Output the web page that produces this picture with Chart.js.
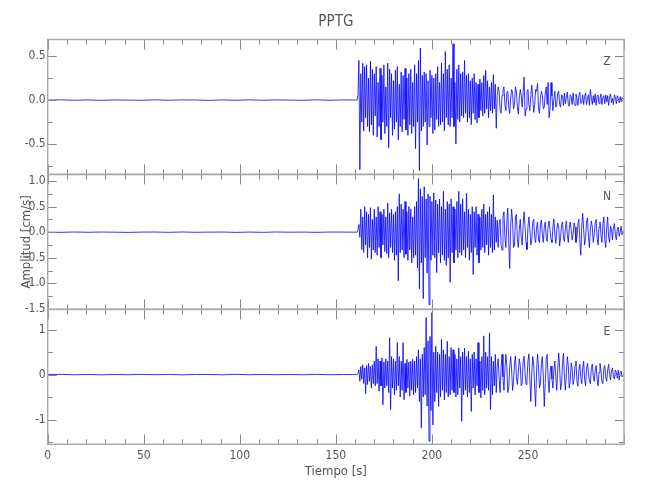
<!DOCTYPE html>
<html>
<head>
<meta charset="utf-8">
<script src="https://cdn.jsdelivr.net/npm/chart.js@4.4.1/dist/chart.umd.min.js"></script>
<style>
  html, body { margin: 0; padding: 0; background: #fff; }
</style>
</head>
<body>
<canvas id="seis" width="650" height="500"></canvas>
<script>
'use strict';

// station + components
var station = 'PPTG';
var components = ['Z', 'N', 'E'];

// quiet part before the arrival: one value every 7 s from 0 s
var quietStart = 0, quietStep = 7;
var quietZ = [0.000, 0.003, -0.002, 0.002, -0.003, 0.002, 0.000, -0.002, 0.003, -0.002, 0.002, 0.001,
  -0.003, 0.002, -0.002, 0.003, -0.002, 0.002, 0.000, -0.002, 0.003, -0.002, 0.002];
var quietN = [0.000, -0.003, 0.004, -0.002, 0.003, 0.000, -0.004, 0.002, 0.003, -0.003, 0.004, -0.002,
  0.001, 0.003, -0.004, 0.002, -0.003, 0.004, 0.000, 0.002, -0.003, 0.003, 0.002];
var quietE = [0.000, 0.005, -0.004, 0.003, -0.005, 0.004, -0.003, 0.005, -0.002, 0.004, -0.005, 0.003,
  0.002, -0.004, 0.005, -0.003, 0.004, -0.002, 0.003, -0.004, 0.005, -0.003, 0.002];

// shaking part: one value every 0.5 s from 161 s to 300 s
var waveStart = 161, waveStep = 0.5;
var waveZ = [
  0.00, 0.05, 0.45, -0.79, 0.30, -0.25, 0.42, -0.35, 0.38, -0.20,
  0.40, -0.30, 0.25, -0.36, 0.44, -0.28, 0.35, -0.40, 0.30, -0.18,
  0.38, -0.42, 0.20, -0.30, 0.36, -0.45, 0.28, -0.25, 0.40, -0.38,
  0.15, -0.30, 0.42, -0.54, 0.35, -0.20, 0.30, -0.40, 0.22, -0.33,
  0.34, -0.25, 0.38, -0.45, 0.18, -0.30, 0.32, -0.36, 0.28, -0.22,
  0.36, -0.34, 0.25, -0.40, 0.30, -0.28, 0.35, -0.38, 0.20, -0.30,
  0.40, -0.55, 0.30, -0.25, 0.45, -0.80, 0.59, -0.35, 0.28, -0.30,
  0.32, -0.25, 0.30, -0.51, 0.22, -0.30, 0.34, -0.20, 0.28, -0.38,
  0.25, -0.34, 0.30, -0.22, 0.38, -0.30, 0.20, -0.28, 0.42, -0.25,
  0.30, -0.35, 0.55, -0.20, 0.35, -0.28, 0.40, -0.30, 0.25, -0.20,
  0.64, -0.30, 0.20, -0.50, 0.35, -0.22, 0.40, -0.25, 0.30, -0.18,
  0.32, -0.20, 0.45, -0.15, 0.28, -0.25, 0.30, -0.20, 0.22, -0.28,
  0.25, -0.15, 0.30, -0.22, 0.20, -0.26, 0.18, -0.20, 0.24, -0.12,
  0.20, -0.18, 0.28, -0.15, 0.34, -0.10, 0.22, -0.20, 0.15, -0.12,
  0.20, -0.15, 0.29, -0.10, 0.18, -0.32, 0.05, 0.15, 0.10, -0.12,
  -0.15, 0.05, 0.12, 0.15, -0.05, -0.12, 0.08, 0.10, -0.08, -0.15,
  0.02, 0.12, 0.08, -0.10, -0.05, 0.15, 0.10, -0.08, -0.16, 0.02,
  0.12, 0.05, -0.08, 0.08, 0.26, -0.18, -0.10, 0.10, 0.12, -0.05,
  -0.12, 0.05, 0.17, 0.02, -0.14, -0.05, 0.12, 0.10, 0.19, -0.10,
  -0.15, 0.02, 0.10, 0.05, -0.10, -0.08, 0.08, 0.15, -0.05, 0.20,
  -0.20, -0.10, 0.20, 0.05, -0.12, 0.02, 0.10, -0.08, -0.05, 0.08,
  0.10, -0.05, -0.08, 0.06, 0.05, -0.06, 0.08, -0.04, 0.03, 0.09,
  -0.05, -0.07, 0.06, 0.04, -0.05, 0.08, -0.03, -0.06, 0.07, 0.02,
  -0.06, 0.05, 0.09, -0.04, -0.03, 0.06, -0.05, 0.04, 0.08, -0.05,
  0.02, 0.06, -0.06, 0.12, 0.03, -0.05, 0.05, -0.03, 0.07, -0.06,
  0.04, 0.06, -0.04, 0.02, 0.07, -0.05, 0.03, 0.05, -0.04, 0.06,
  -0.02, 0.05, -0.06, 0.04, 0.07, -0.03, 0.02, -0.05, 0.06, 0.03,
  -0.04, 0.05, 0.02, -0.03, 0.04, -0.02, 0.03, 0.01, 0.02
];
var waveN = [
  0.00, 0.05, 0.15, -0.10, 0.45, -0.34, 0.30, -0.40, 0.50, -0.25,
  0.40, -0.50, 0.35, -0.30, 0.48, -0.53, 0.25, -0.35, 0.45, -0.40,
  0.30, -0.45, 0.50, -0.30, 0.40, -0.50, 0.35, -0.25, 0.45, -0.38,
  0.30, -0.42, 0.57, -0.50, 0.38, -0.30, 0.45, -0.40, 0.35, -0.55,
  0.40, -0.45, 0.50, -0.95, 0.75, -0.40, 0.55, -0.35, 0.45, -0.50,
  0.60, -0.43, 0.40, -0.55, 0.50, -0.35, 0.45, -0.60, 0.30, -0.50,
  0.50, -0.45, 0.60, -0.70, 1.05, -1.11, 0.85, -0.60, 0.70, -1.30,
  0.89, -0.50, 0.65, -0.80, 0.75, -1.42, 0.70, -0.55, 0.60, -0.45,
  0.77, -0.50, 0.63, -0.79, 0.55, -0.40, 0.65, -0.60, 0.50, -0.45,
  0.80, -0.55, 0.45, -0.65, 0.60, -0.50, 0.55, -0.98, 0.65, -0.40,
  0.50, -0.60, 0.45, -0.35, 0.60, -0.50, 0.80, -0.40, 0.55, -0.45,
  0.65, -0.35, 0.40, -0.50, 0.76, -0.30, 0.45, -0.55, 0.35, -0.40,
  0.50, -0.83, 0.40, -0.30, 0.50, -0.45, 0.35, -0.60, 0.30, -0.35,
  0.45, -0.30, 0.55, -0.40, 0.35, -0.25, 0.40, -0.45, 0.50, -0.30,
  0.35, -0.40, 0.73, -0.35, 0.30, -0.20, 0.24, -0.30, 0.15, 0.25,
  -0.25, -0.35, 0.30, 0.40, -0.10, -0.30, 0.20, 0.47, -0.20, -0.71,
  0.10, 0.45, 0.20, -0.30, -0.25, 0.30, 0.35, -0.15, -0.30, 0.05,
  0.25, -0.10, -0.25, 0.15, 0.40, 0.10, -0.20, -0.34, 0.10, 0.30,
  0.05, -0.25, -0.15, 0.20, 0.25, -0.10, -0.20, 0.10, 0.20, -0.15,
  -0.20, 0.15, 0.24, -0.05, -0.20, 0.10, 0.20, -0.10, -0.18, 0.12,
  0.22, 0.05, -0.15, -0.20, 0.10, 0.26, -0.05, -0.22, 0.05, 0.18,
  0.10, -0.27, -0.10, 0.15, 0.20, -0.12, -0.18, 0.10, 0.22, -0.05,
  -0.20, 0.08, 0.20, 0.05, -0.15, -0.05, 0.18, 0.10, -0.20, -0.10,
  0.15, 0.25, -0.15, -0.45, 0.10, 0.37, 0.05, -0.25, -0.10, 0.20,
  0.28, -0.10, -0.30, 0.05, 0.22, 0.10, -0.20, -0.05, 0.18, 0.25,
  -0.10, -0.25, 0.10, 0.20, -0.05, -0.20, 0.15, 0.30, -0.15, -0.30,
  0.10, 0.30, -0.10, -0.20, 0.12, 0.05, -0.15, 0.10, 0.17, -0.05,
  -0.15, 0.05, 0.10, -0.08, 0.00, 0.12, -0.05, 0.02, 0.03
];
var waveE = [
  0.00, 0.02, 0.10, -0.15, 0.18, -0.10, 0.22, -0.20, 0.15, -0.43,
  0.20, -0.22, 0.25, -0.15, 0.18, -0.30, 0.22, -0.20, 0.30, -0.25,
  0.63, -0.20, 0.35, -0.37, 0.30, -0.25, 0.37, -0.67, 0.28, -0.30,
  0.35, -0.25, 0.30, -0.40, 0.82, -0.78, 0.40, -0.30, 0.35, -0.45,
  0.30, -0.35, 0.71, -0.25, 0.40, -0.50, 0.30, -0.35, 0.71, -0.56,
  0.25, -0.40, 0.34, -0.30, 0.28, -0.48, 0.30, -0.35, 0.34, -0.45,
  0.30, -0.40, 0.40, -0.30, 0.55, -0.60, 0.35, -1.19, 0.45, -0.50,
  0.60, -0.45, 1.27, -0.70, 0.75, -1.48, 0.85, -0.80, 1.38, -1.12,
  0.50, -0.60, 0.63, -0.40, 0.50, -0.71, 0.45, -0.50, 0.78, -0.35,
  0.55, -0.56, 0.45, -0.40, 0.74, -0.50, 0.40, -0.45, 0.60, -0.35,
  0.55, -0.40, 0.45, -0.50, 0.35, -0.45, 0.59, -0.30, 0.40, -1.04,
  0.50, -0.45, 0.59, -0.35, 0.40, -0.50, 0.52, -0.40, 0.35, -0.82,
  0.45, -0.30, 0.50, -0.45, 0.35, -0.25, 0.71, -0.40, 0.30, -0.52,
  0.40, -0.35, 0.86, -0.45, 0.50, -0.30, 0.40, -0.35, 0.93, -0.78,
  0.40, -0.45, 0.30, -0.25, 0.45, -0.40, 0.20, 0.35, -0.10, -0.40,
  0.15, 0.45, -0.05, -0.35, 0.10, 0.45, 0.20, -0.40, -0.30, 0.15,
  0.40, 0.10, -0.35, -0.15, 0.25, 0.41, -0.05, -0.22, 0.05, 0.35,
  0.20, -0.25, -0.20, 0.30, 0.41, 0.05, -0.22, -0.10, 0.30, 0.46,
  -0.10, -0.60, 0.05, 0.40, 0.20, -0.30, -0.71, 0.10, 0.45, 0.15,
  -0.30, -0.20, 0.25, 0.40, -0.05, -0.71, -0.20, 0.35, 0.45, -0.10,
  -0.40, 0.05, 0.19, -0.10, -0.30, 0.10, 0.30, -0.05, -0.35, 0.10,
  0.48, 0.15, -0.34, -0.20, 0.25, 0.48, -0.05, -0.35, 0.05, 0.40,
  0.20, -0.30, -0.15, 0.26, 0.15, -0.22, -0.10, 0.20, 0.30, -0.15,
  -0.26, 0.10, 0.23, -0.05, -0.20, 0.15, 0.30, -0.10, -0.25, 0.10,
  0.25, 0.05, -0.15, -0.20, 0.15, 0.23, -0.05, -0.15, 0.10, 0.20,
  -0.10, -0.25, 0.05, 0.25, 0.10, -0.15, -0.20, 0.15, 0.20, -0.08,
  -0.15, 0.10, 0.23, 0.00, -0.12, 0.08, 0.15, -0.05, -0.10, 0.10,
  0.05, -0.08, 0.10, -0.12, 0.05, 0.08, -0.05, -0.02, 0.00
];

// axis ranges and tick labels
var xRange = [0, 300];
var xTicks = [0, 50, 100, 150, 200, 250];
var rangeZ = [-0.844, 0.688], ticksZ = [-0.5, 0.0, 0.5];
var rangeN = [-1.51, 1.13], ticksN = [-1.5, -1.0, -0.5, 0.0, 0.5, 1.0];
var rangeE = [-1.55, 1.45], ticksE = [-1, 0, 1];

// styles
var fontFam = '"DejaVu Sans Condensed", "Liberation Sans Narrow", "Liberation Sans", sans-serif';
var textColor = '#555';
var frameColor = '#aaaaaa';
var tickColor = '#888888';
var traceColor = 'rgb(0,0,255)';

function toPoints(quiet, wave) {
  var pts = [];
  for (var i = 0; i < quiet.length; i++) pts.push({x: quietStart + i * quietStep, y: quiet[i]});
  for (var j = 0; j < wave.length; j++) pts.push({x: waveStart + j * waveStep, y: wave[j]});
  return pts;
}

var panels = [
  {id: 'yZ', name: 'Z', range: rangeZ, ticks: ticksZ, minor: 0.25, dec: 1, quiet: quietZ, wave: waveZ},
  {id: 'yN', name: 'N', range: rangeN, ticks: ticksN, minor: 0.25, dec: 1, quiet: quietN, wave: waveN},
  {id: 'yE', name: 'E', range: rangeE, ticks: ticksE, minor: 0.5, dec: 0, quiet: quietE, wave: waveE}
];

var scales = {
  x: {
    type: 'linear', position: 'bottom', min: xRange[0], max: xRange[1],
    grid: {display: false, drawTicks: false}, border: {display: false},
    afterBuildTicks: function (s) { s.ticks = xTicks.map(function (v) { return {value: v}; }); },
    afterFit: function (s) { s.height = 55.7; },
    ticks: {padding: 4, color: textColor, font: {family: fontFam, size: 12}, maxRotation: 0, autoSkip: false},
    title: {display: true, text: 'Tiempo [s]', color: textColor, font: {family: fontFam, size: 13},
      padding: {top: 0, bottom: 21}}
  }
};

// stacked left scales are laid out last-registered on top, so add them bottom-up
panels.slice().reverse().forEach(function (p) {
  scales[p.id] = {
    type: 'linear', position: 'left', stack: 'seis', stackWeight: 1,
    min: p.range[0], max: p.range[1],
    grid: {display: false, drawTicks: false}, border: {display: false},
    afterBuildTicks: function (s) { s.ticks = p.ticks.map(function (v) { return {value: v}; }); },
    afterFit: function (s) { s.width = 47.7; },
    ticks: {padding: 2, color: textColor, font: {family: fontFam, size: 12}, autoSkip: false,
      callback: function (v) { return Number(v).toFixed(p.dec); }},
    title: {display: p.name === 'N', text: 'Amplitud [cm/s]', color: textColor,
      font: {family: fontFam, size: 13}, padding: {top: 19, bottom: 0}}
  };
});

// frame, inward ticks, component letters and title
var framePlugin = {
  id: 'frame',
  afterDraw: function (chart) {
    var ctx = chart.ctx;
    var xs = chart.scales.x;
    var left = chart.chartArea.left, right = chart.chartArea.right;
    ctx.save();
    panels.forEach(function (p) {
      var s = chart.scales[p.id];
      var top = s.top, bottom = s.bottom;
      ctx.strokeStyle = tickColor;
      ctx.lineWidth = 1;
      ctx.beginPath();
      for (var v = xRange[0]; v <= xRange[1]; v += 10) {
        var px = Math.round(xs.getPixelForValue(v)) + 0.5;
        var len = v % 50 === 0 ? 10 : 5;
        ctx.moveTo(px, bottom); ctx.lineTo(px, bottom - len);
        ctx.moveTo(px, top); ctx.lineTo(px, top + len);
      }
      var start = Math.ceil(p.range[0] / p.minor) * p.minor;
      for (var y = start; y <= p.range[1] + 1e-9; y += p.minor) {
        var major = p.ticks.some(function (t) { return Math.abs(t - y) < 1e-6; });
        var py = Math.round(s.getPixelForValue(y)) + 0.5;
        var ylen = major ? 9 : 5;
        ctx.moveTo(left, py); ctx.lineTo(left + ylen, py);
        ctx.moveTo(right, py); ctx.lineTo(right - ylen, py);
      }
      ctx.stroke();
      ctx.strokeStyle = frameColor;
      ctx.lineWidth = 1.5;
      ctx.strokeRect(left, top, right - left, bottom - top);
      ctx.fillStyle = textColor;
      ctx.font = '12px ' + fontFam;
      ctx.textAlign = 'center';
      ctx.textBaseline = 'middle';
      ctx.fillText(p.name, right - 17, top + 22.5);
    });
    ctx.font = '15px ' + fontFam;
    ctx.fillText(station, (left + right) / 2, 22);
    ctx.restore();
  }
};

var ctx = document.getElementById('seis').getContext('2d');
var myChart = new Chart(ctx, {
  type: 'line',
  data: {
    datasets: panels.map(function (p) {
      return {
        label: p.name,
        data: toPoints(p.quiet, p.wave),
        xAxisID: 'x',
        yAxisID: p.id,
        borderColor: traceColor,
        borderWidth: 0.8,
        pointRadius: 0,
        tension: 0,
        fill: false
      };
    })
  },
  options: {
    responsive: false,
    animation: false,
    layout: {padding: {top: 39.5, right: 26, bottom: 0, left: 0}},
    plugins: {legend: {display: false}, tooltip: {enabled: false}, title: {display: false}},
    scales: scales
  },
  plugins: [framePlugin]
});
</script>
</body>
</html>
